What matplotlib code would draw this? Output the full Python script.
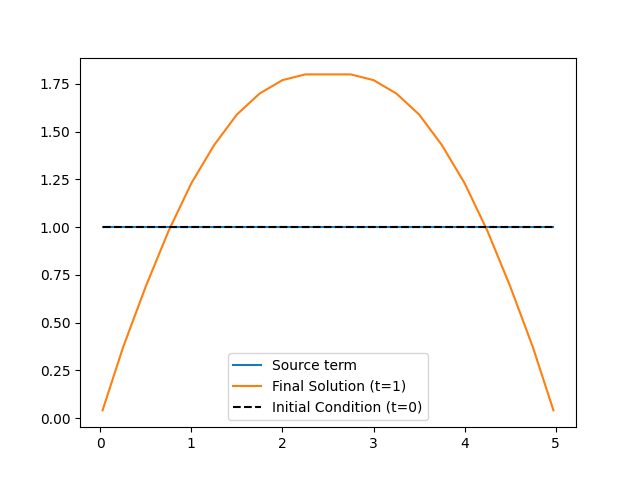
import matplotlib
matplotlib.use("Agg")
import matplotlib.pyplot as plt

x = [0.025, 0.25, 0.5, 0.75, 1.0, 1.25, 1.5, 1.75, 2.0, 2.25, 2.5,
     2.75, 3.0, 3.25, 3.5, 3.75, 4.0, 4.25, 4.5, 4.75, 4.975]
final = [0.04, 0.37, 0.69, 0.98, 1.23, 1.43, 1.59, 1.70, 1.77, 1.80, 1.80,
         1.80, 1.77, 1.70, 1.59, 1.43, 1.23, 0.98, 0.69, 0.37, 0.04]
source = [1.0] * len(x)
initial = [1.0] * len(x)

fig, ax = plt.subplots(figsize=(6.4, 4.8), dpi=100)
ax.plot(x, source, label="Source term")
ax.plot(x, final, label="Final Solution (t=1)")
ax.plot(x, initial, "k--", label="Initial Condition (t=0)")
ax.legend(loc="lower center")
fig.savefig("out.png")
